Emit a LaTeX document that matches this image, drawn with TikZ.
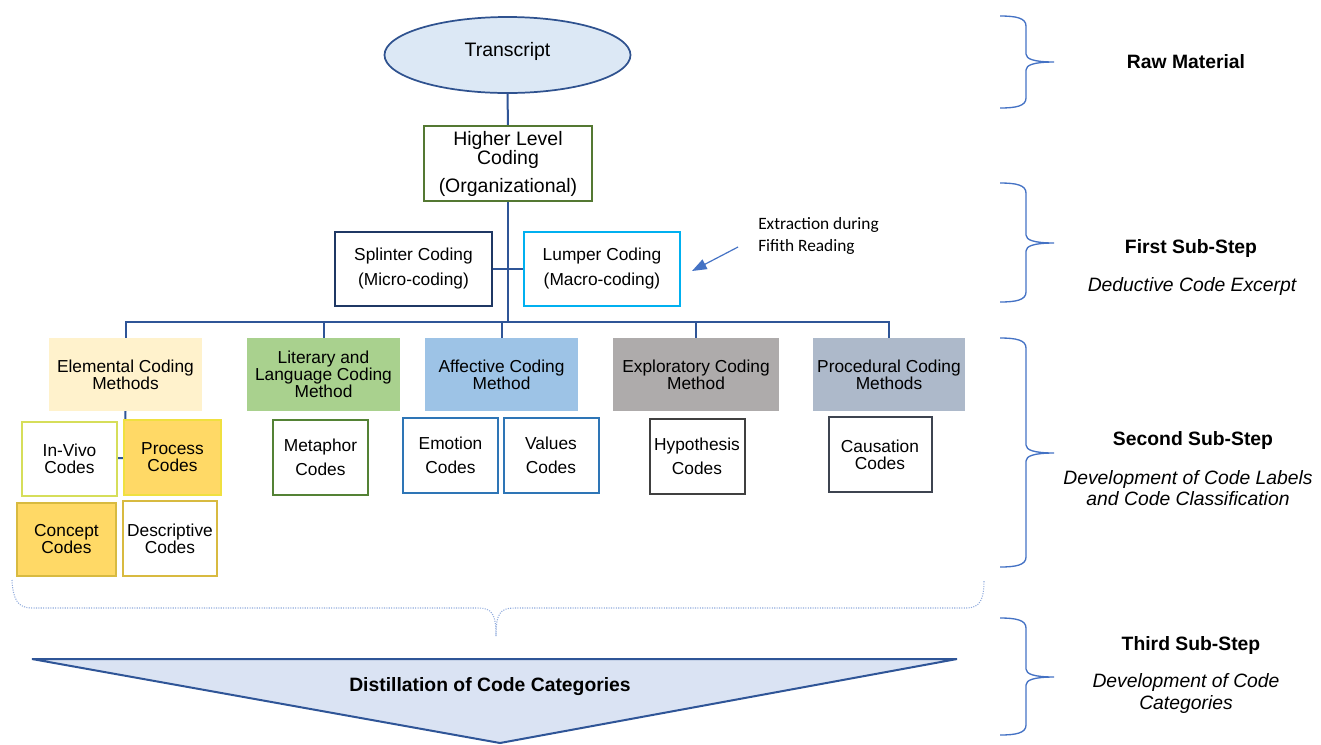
\documentclass[tikz,border=0pt]{standalone}
\usepackage{fontspec}
\setmainfont{Liberation Sans}
\newfontfamily\calib{Carlito}
\usetikzlibrary{arrows.meta,shapes.geometric}
\definecolor{connc}{RGB}{47,85,151}
\definecolor{ellfill}{RGB}{220,232,245}
\definecolor{ellline}{RGB}{47,82,143}
\definecolor{hlgreen}{RGB}{84,120,50}
\definecolor{navy}{RGB}{31,56,100}
\definecolor{cyanb}{RGB}{0,176,240}
\definecolor{elfill}{RGB}{255,242,204}
\definecolor{litfill}{RGB}{169,209,142}
\definecolor{afffill}{RGB}{157,195,230}
\definecolor{expfill}{RGB}{174,171,171}
\definecolor{profill}{RGB}{173,185,202}
\definecolor{ivline}{RGB}{214,222,90}
\definecolor{gold}{RGB}{255,217,102}
\definecolor{pcline}{RGB}{240,224,64}
\definecolor{ccline}{RGB}{216,186,64}
\definecolor{metgreen}{RGB}{84,130,53}
\definecolor{emblue}{RGB}{46,117,182}
\definecolor{hygray}{RGB}{64,64,64}
\definecolor{cagray}{RGB}{62,68,80}
\definecolor{brcc}{RGB}{68,114,196}
\definecolor{bigbrc}{RGB}{143,170,220}
\definecolor{trifill}{RGB}{218,227,243}
\newcommand\fsz[2]{\fontsize{#1}{#2}\selectfont}
\pgfdeclarelayer{bg}
\pgfsetlayers{bg,main}
\tikzset{
  conn/.style={draw=connc, line width=1.5pt},
  bx/.style={rectangle, inner sep=0pt, outer sep=0pt, align=center, line width=1.5pt, fill=white},
  wh/.style 2 args={minimum width=#1*0.75pt, minimum height=#2*0.75pt},
  cat/.style={bx, draw=none, font=\fsz{13}{12.75}},
  codet/.style={bx, font=\fsz{13}{12.75}},
  codew/.style={bx, font=\fsz{13}{18.4}},
  brc/.style={draw=brcc, line width=1pt},
  stephd/.style={font=\bfseries\fsz{14.5}{17}},
  stepit/.style={font=\itshape\fsz{14.5}{15.5}, align=center},
}
\newcommand\sidebrace[3]{\draw[brc] (1000,#1) .. controls (1016,#1) and (1026,{#1+2}) .. (1026,{#1+10}) -- (1026,{#2-8}) .. controls (1026,{#2-3}) and (1034,#2) .. (1054,#2) .. controls (1034,#2) and (1026,{#2+3}) .. (1026,{#2+8}) -- (1026,{#3-10}) .. controls (1026,{#3-2}) and (1016,#3) .. (1000,#3);}
\begin{document}
\begin{tikzpicture}[x=0.75pt,y=-0.75pt]
\useasboundingbox (0,0) rectangle (1321,744);

% top part
\node[ellipse, draw=ellline, fill=ellfill, line width=1.3pt, inner sep=0pt, wh={246}{76}, font=\fsz{14.6}{17}] (tr) at (507.5,55) {\raisebox{8pt}{Transcript}};
\node[bx, draw=hlgreen, wh={168}{75}, font=\fsz{14.6}{14.25}] (hl) at (508,163.5) {Higher Level\\Coding\\[6.75pt](Organizational)};
\node[bx, draw=navy, wh={157}{74}, font=\fsz{13}{18.75}] (spl) at (413.5,269) {\raisebox{2pt}{Splinter Coding}\\\raisebox{2pt}{(Micro-coding)}};
\node[bx, draw=cyanb, wh={156}{74}, font=\fsz{13}{18.75}] (lum) at (602,269) {Lumper Coding\\(Macro-coding)};
\node[align=left, anchor=west, inner sep=0pt, font=\calib\fsz{13}{16.2}] (ext) at (758,236) {Extraction during\\Fifith Reading};
\coordinate (extail) at (738,247);
\coordinate (extip) at (692,271);
\coordinate (bus) at (508,322);

% category boxes
\node[cat, fill=elfill, wh={153}{73}] (el) at (125.5,374.5) {Elemental Coding\\Methods};
\node[cat, fill=litfill, wh={153}{73}] (lit) at (323.5,374.5) {Literary and\\Language Coding\\Method};
\node[cat, fill=afffill, wh={153}{73}] (aff) at (501.5,374.5) {Affective Coding\\Method};
\node[cat, fill=expfill, wh={166}{73}] (exp) at (696,374.5) {Exploratory Coding\\Method};
\node[cat, fill=profill, wh={152}{73}] (pro) at (889,374.5) {Procedural Coding\\Methods};

% code boxes
\node[codet, draw=ivline, wh={95}{74}] (iv) at (69.5,459) {In-Vivo\\Codes};
\node[codet, draw=pcline, fill=gold, wh={97}{75}] (pc) at (172.5,457.5) {Process\\Codes};
\node[codet, draw=ccline, fill=gold, wh={99}{73}] (cc) at (66.5,539.5) {Concept\\Codes};
\node[codet, draw=ccline, wh={94}{75}] (dc) at (170,538.5) {Descriptive\\Codes};
\node[codew, draw=metgreen, wh={95}{75}] (mc) at (320.5,457.5) {Metaphor\\Codes};
\node[codew, draw=emblue, wh={95}{75}] (em) at (450.5,455.5) {Emotion\\Codes};
\node[codew, draw=emblue, wh={95}{75}] (va) at (551,455.5) {Values\\Codes};
\node[codew, draw=hygray, wh={95}{75}] (hy) at (697,456.5) {Hypothesis\\Codes};
\node[codet, draw=cagray, wh={103}{75}] (ca) at (880,454.5) {Causation\\Codes};
\coordinate (elj) at (125,458);

% connectors
\begin{pgfonlayer}{bg}
\draw[conn] (tr.south) -- (hl.north);
\draw[conn] (hl.south) -- (bus);
\draw[conn] (spl.east) -- (lum.west);
\draw[conn, line join=miter] (el.north) -- (el.north |- bus) -- (pro.north |- bus) -- (pro.north);
\foreach \n in {lit,aff,exp} \draw[conn] (\n.north) -- (\n.north |- bus);
\draw[conn] (el.south) -- (elj) -- (iv.east |- elj);
\end{pgfonlayer}
\draw[draw=brcc, line width=0.9pt, -{Triangle[length=11pt,width=8pt]}] (extail) -- (extip);

% big brace
\draw[draw=bigbrc, line width=0.8pt, densely dotted] (12,580) .. controls (13,600) and (18,608) .. (32,608) -- (478,608) .. controls (492,608) and (496,614) .. (496,636) .. controls (496,614) and (500,608) .. (514,608) -- (966,608) .. controls (980,608) and (984,600) .. (984,580);

% distillation triangle
\draw[draw=connc, fill=trifill, line width=1.5pt, line join=miter] (32,659) -- (957,659) -- (500,743) -- cycle;
\node[font=\bfseries\fsz{14.5}{17}] (dist) at (490,687) {Distillation of Code Categories};

% side braces
\sidebrace{16}{62}{108}
\sidebrace{183}{243}{302}
\sidebrace{338}{453}{567}
\sidebrace{618}{677}{735}

% side labels
\node[stephd] (raw) at (1186,62) {Raw Material};
\node[stephd] (s1) at (1191,248) {First Sub-Step};
\node[stepit] (s1t) at (1192,286) {Deductive Code Excerpt};
\node[stephd] (s2) at (1193,440) {Second Sub-Step};
\node[stepit] (s2t) at (1188,488) {Development of Code Labels\\and Code Classification};
\node[stephd] (s3) at (1191,645) {Third Sub-Step};
\node[stepit, font=\itshape\fsz{14.5}{16.5}] (s3t) at (1186,693) {Development of Code\\Categories};
\end{tikzpicture}
\end{document}
